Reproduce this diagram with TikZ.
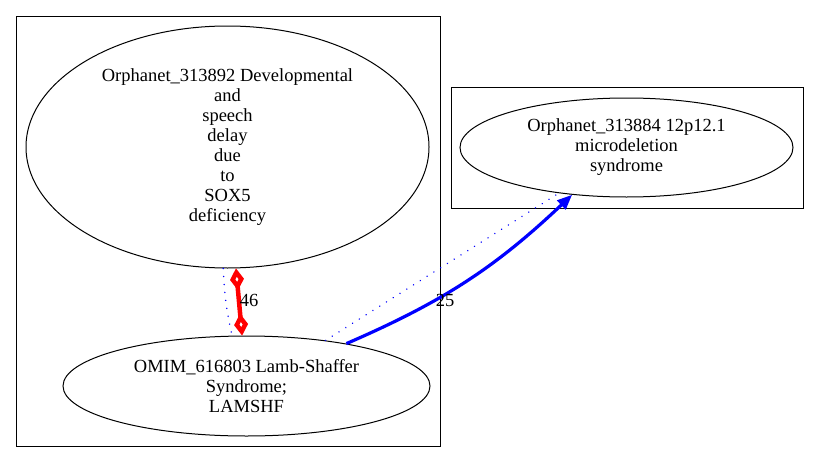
\documentclass[tikz,border=0pt]{standalone}
\usepackage{fontspec}
\setmainfont{Liberation Serif}
\usepackage{tikz}
\usetikzlibrary{arrows.meta,calc,positioning,shapes.geometric}

\begin{document}
\begin{tikzpicture}[x=1pt,y=-1pt,
  ell/.style={draw, line width=1pt, ellipse, inner sep=0pt, align=center, font=\fontsize{18.5}{20}\selectfont},
  lbl/.style={font=\fontsize{18.5}{20}\selectfont, inner sep=0pt},
  dotlink/.style={blue, line width=1.6pt, line cap=round, dash pattern=on 0.01pt off 8pt},
  strong/.style={blue, line width=3.2pt, -{Triangle[length=15pt,width=12pt]}},
  sym/.style={red, line width=4.5pt, {Diamond[open,length=22pt,width=14pt]}-{Diamond[open,length=22pt,width=14pt]}}]
\useasboundingbox[fill=white] (0,0) rectangle (819,463);

% Clusters
\draw[line width=1pt] (16,16) rectangle (440,446);
\draw[line width=1pt] (451,87) rectangle (803,208);

% Diseases
\node[ell, minimum width=403pt, minimum height=242pt] (sox) at (227.5,147) {Orphanet\_313892 Developmental\\and\\speech\\delay\\due\\to\\SOX5\\deficiency};
\node[ell, minimum width=367pt, minimum height=100pt] (lam) at (246.5,386) {OMIM\_616803 Lamb-Shaffer\\Syndrome;\\LAMSHF};
\node[ell, minimum width=333pt, minimum height=99pt] (mic) at (626.5,147.5) {Orphanet\_313884 12p12.1\\microdeletion\\syndrome};

% Links
\draw[dotlink] (sox.-92) to[bend right=5] (lam.106);
\draw[sym] (sox.-86) -- (lam.95);
\node[lbl] (n46) at (249,300) {46};
\draw[dotlink] (lam.30) -- (mic.-146);
\draw[strong] (lam.23) to[bend right=10] (mic.-139);
\node[lbl] (n25) at (445,300) {25};
\end{tikzpicture}
\end{document}
